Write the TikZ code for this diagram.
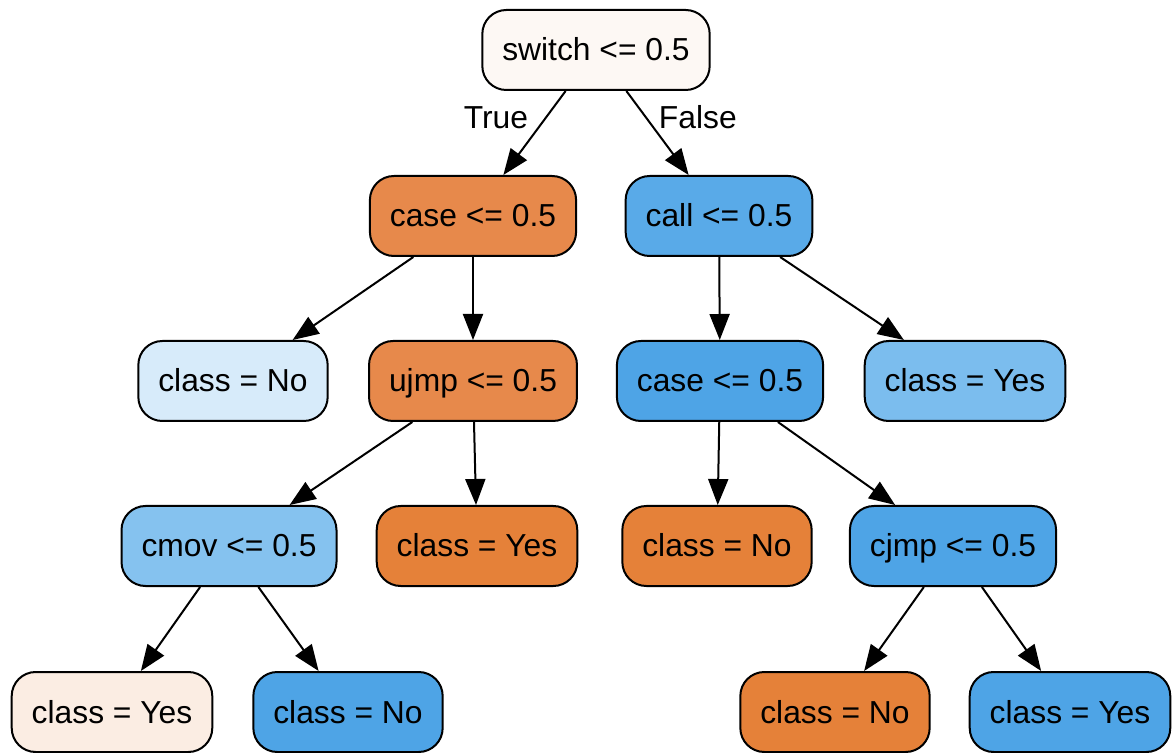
\documentclass[tikz,border=0pt]{standalone}
\usepackage{fontspec}
\setmainfont{Liberation Sans}
\usepackage{xcolor}
\usetikzlibrary{
    arrows.meta,
    positioning
}
\definecolor{orfull}{RGB}{229,129,57}
\definecolor{orhi}{RGB}{231,137,75}
\definecolor{orpale}{RGB}{251,237,227}
\definecolor{orwhite}{RGB}{253,248,244}
\definecolor{blpale}{RGB}{215,235,250}
\definecolor{bllight}{RGB}{123,189,238}
\definecolor{blmid}{RGB}{133,194,239}
\definecolor{blhi}{RGB}{89,170,232}
\definecolor{blfull}{RGB}{78,164,230}

\begin{document}
\begin{tikzpicture}[x=0.5pt, y=-0.5pt,
    box/.style={draw, rounded corners=12pt, line width=1pt, minimum height=40pt, inner xsep=10pt, text height=12.5pt, text depth=1.5pt, font=\fontsize{15.9}{19}\selectfont},
    arr/.style={-{Triangle[length=13pt,width=10pt]}, line width=1pt},
    lbl/.style={font=\fontsize{15.9}{19}\selectfont, yshift=3.5pt}]
    \useasboundingbox (0, 0) rectangle (1173, 753);

    \node[box, fill=orwhite] (sw) at (596, 50) {switch <= 0.5};
    \node[box, fill=orhi] (ca1) at (473, 216) {case <= 0.5};
    \node[box, fill=blhi] (cl) at (719, 216) {call <= 0.5};
    \node[box, fill=blpale] (no1) at (233, 381) {class = No};
    \node[box, fill=orhi] (uj) at (473, 381) {ujmp <= 0.5};
    \node[box, fill=blfull] (ca2) at (720, 381) {case <= 0.5};
    \node[box, fill=bllight] (yes1) at (965, 381) {class = Yes};
    \node[box, fill=blmid] (cm) at (229, 546) {cmov <= 0.5};
    \node[box, fill=orfull] (yes2) at (477, 546) {class = Yes};
    \node[box, fill=orfull] (no2) at (717, 546) {class = No};
    \node[box, fill=blfull] (cj) at (953, 546) {cjmp <= 0.5};
    \node[box, fill=orpale] (yes3) at (112, 712) {class = Yes};
    \node[box, fill=blfull] (no3) at (348, 712) {class = No};
    \node[box, fill=orfull] (no4) at (835, 712) {class = No};
    \node[box, fill=blfull] (yes4) at (1070, 712) {class = Yes};

    \draw
    (sw) edge[arr] node[lbl, left, pos=0.4, xshift=-2.5pt] {True} (ca1)
    (sw) edge[arr] node[lbl, right, pos=0.4] {False} (cl)
    (ca1) edge[arr] (no1)
    (ca1) edge[arr] (uj)
    (cl) edge[arr] (ca2)
    (cl) edge[arr] (yes1)
    (uj) edge[arr] (cm)
    (uj) edge[arr] (yes2)
    (ca2) edge[arr] (no2)
    (ca2) edge[arr] (cj)
    (cm) edge[arr] (yes3)
    (cm) edge[arr] (no3)
    (cj) edge[arr] (no4)
    (cj) edge[arr] (yes4);
\end{tikzpicture}
\end{document}
